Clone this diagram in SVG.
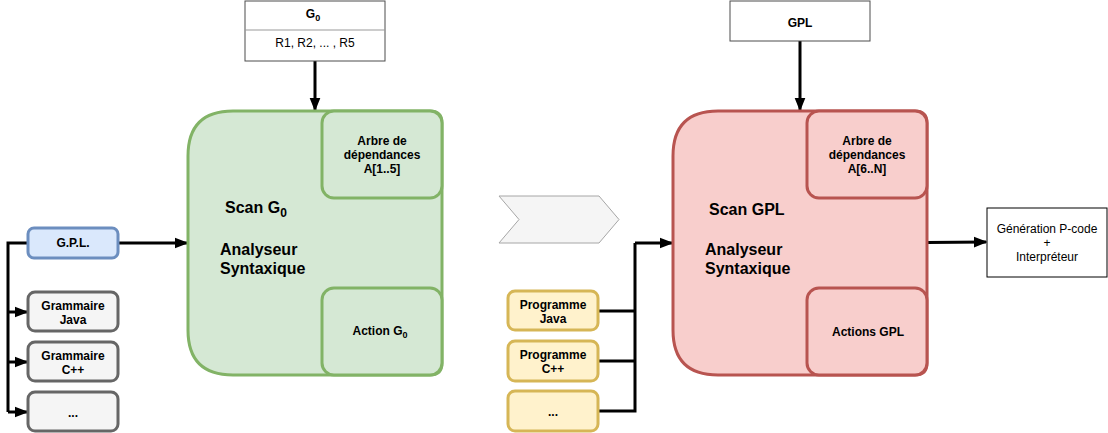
<svg xmlns="http://www.w3.org/2000/svg" width="1108" height="433" viewBox="0 0 1108 433">
<defs>
<style>
text{font-family:"Liberation Sans",Arial,sans-serif;fill:#000;text-anchor:middle}
.b{font-weight:bold;font-size:12px}
.big{font-weight:bold;font-size:16px;text-anchor:start}
.n{font-size:12px}
.line{fill:none;stroke:#000;stroke-width:3}
.lineA{fill:none;stroke:#000;stroke-width:3;marker-end:url(#arr)}
.green{fill:#d5e8d4;stroke:#82b366;stroke-width:3}
.red{fill:#f8cecc;stroke:#b85450;stroke-width:3}
.blue{fill:#dae8fc;stroke:#6c8ebf;stroke-width:3}
.gray{fill:#f5f5f5;stroke:#666666;stroke-width:3}
.yellow{fill:#fff2cc;stroke:#d6b656;stroke-width:3}
.plain{fill:#fff;stroke:#000;stroke-width:1}
.plaing{fill:#fff;stroke:#4d4d4d;stroke-width:1}
</style>
<marker id="arr" viewBox="0 0 10 10" refX="9" refY="5" markerWidth="4.5" markerHeight="4.5" markerUnits="strokeWidth" orient="auto">
<path d="M0,1 L10,5 L0,9 Z" fill="#000"/>
</marker>
</defs>

<g id="connectors">
<path class="lineA" d="M315,61 L315,110"/>
<path class="lineA" d="M800,41 L800,110"/>
<path class="lineA" d="M118,243 L187,243"/>
<path class="line" d="M28,243 L8,243 L8,412"/>
<path class="lineA" d="M8,312 L27,312"/>
<path class="lineA" d="M8,362 L27,362"/>
<path class="lineA" d="M8,412 L27,412"/>
<path class="line" d="M598,311 L635,311 M598,361 L635,361 M598,411 L635,411 L635,243"/>
<path class="lineA" d="M635,243 L672,243"/>
<path class="lineA" d="M927,242.5 L986,242"/>
</g>

<g id="g0">
<rect class="plaing" x="245" y="1" width="140" height="60"/>
<line x1="245" y1="30" x2="385" y2="30" stroke="#999" stroke-width="1"/>
<text class="b" x="313" y="18">G<tspan font-size="9" dy="3">0</tspan></text>
<text class="n" x="315" y="47">R1, R2, ... , R5</text>
</g>

<g id="gpl-top">
<rect class="plaing" x="730" y="1" width="140" height="40"/>
<text class="b" x="800" y="27">GPL</text>
</g>

<g id="gpl-left">
<rect class="blue" x="28" y="228" width="90" height="30" rx="6"/>
<text class="b" x="73" y="247">G.P.L.</text>
</g>
<g id="gram-java">
<rect class="gray" x="28" y="292" width="90" height="39" rx="7"/>
<text class="b" x="73" y="310">Grammaire</text>
<text class="b" x="73" y="324">Java</text>
</g>
<g id="gram-cpp">
<rect class="gray" x="28" y="342" width="90" height="39" rx="7"/>
<text class="b" x="73" y="360">Grammaire</text>
<text class="b" x="73" y="374">C++</text>
</g>
<g id="gram-etc">
<rect class="gray" x="28" y="392" width="90" height="39" rx="7"/>
<text class="b" x="73" y="417">...</text>
</g>

<g id="scan-g0">
<path class="green" d="M233,111 L430,111 Q442,111 442,123 L442,363 Q442,375 430,375 L233,375 Q188,375 188,330 L188,156 Q188,111 233,111 Z"/>
<text class="big" x="225" y="213">Scan G<tspan font-size="12" dy="4">0</tspan></text>
<text class="big" x="220" y="255">Analyseur</text>
<text class="big" x="220" y="274">Syntaxique</text>
</g>
<g id="arbre-g0">
<rect class="green" x="322" y="111" width="120" height="87" rx="12"/>
<text class="b" x="382" y="145">Arbre de</text>
<text class="b" x="382" y="159">dépendances</text>
<text class="b" x="382" y="173">A[1..5]</text>
</g>
<g id="action-g0">
<rect class="green" x="322" y="288" width="120" height="87" rx="12"/>
<text class="b" x="380" y="335">Action G<tspan font-size="9" dy="3">0</tspan></text>
</g>

<g id="chevron">
<path d="M499,196 L599,196 L619,219.5 L599,243 L499,243 L519,219.5 Z" fill="#f5f5f5" stroke="#a6a6a6" stroke-width="1"/>
</g>

<g id="prog-java">
<rect class="yellow" x="508" y="291" width="90" height="39" rx="7"/>
<text class="b" x="553" y="309">Programme</text>
<text class="b" x="553" y="323">Java</text>
</g>
<g id="prog-cpp">
<rect class="yellow" x="508" y="341" width="90" height="40" rx="7"/>
<text class="b" x="553" y="359">Programme</text>
<text class="b" x="553" y="373">C++</text>
</g>
<g id="prog-etc">
<rect class="yellow" x="508" y="391" width="90" height="40" rx="7"/>
<text class="b" x="553" y="416">...</text>
</g>

<g id="scan-gpl">
<path class="red" d="M718,111 L915,111 Q927,111 927,123 L927,363 Q927,375 915,375 L718,375 Q673,375 673,330 L673,156 Q673,111 718,111 Z"/>
<text class="big" x="709" y="215">Scan GPL</text>
<text class="big" x="705" y="255">Analyseur</text>
<text class="big" x="705" y="274">Syntaxique</text>
</g>
<g id="arbre-gpl">
<rect class="red" x="807" y="111" width="120" height="87" rx="12"/>
<text class="b" x="867" y="145">Arbre de</text>
<text class="b" x="867" y="159">dépendances</text>
<text class="b" x="867" y="173">A[6..N]</text>
</g>
<g id="actions-gpl">
<rect class="red" x="807" y="288" width="120" height="87" rx="12"/>
<text class="b" x="868" y="336">Actions GPL</text>
</g>

<g id="generation">
<rect class="plain" x="987" y="208" width="120" height="69"/>
<text class="n" x="1047" y="233">Génération P-code</text>
<text class="n" x="1047" y="247">+</text>
<text class="n" x="1047" y="261">Interpréteur</text>
</g>
</svg>
